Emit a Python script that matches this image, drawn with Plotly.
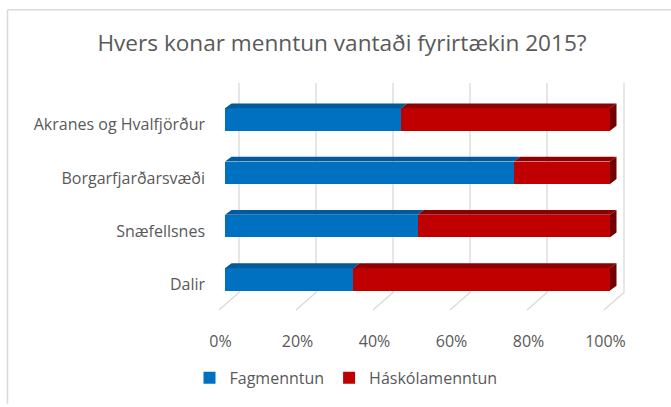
import plotly.graph_objects as go

# ---- data ----
categories = ["Akranes og Hvalfjörður", "Borgarfjarðarsvæði", "Snæfellsnes", "Dalir"]
fagmenntun = [45.7, 75.0, 50.0, 33.3]
haskolamenntun = [54.3, 25.0, 50.0, 66.7]
x_ticks = [0, 20, 40, 60, 80, 100]
x_tick_labels = ["0%", "20%", "40%", "60%", "80%", "100%"]
series_names = ["Fagmenntun", "Háskólamenntun"]

# ---- layout geometry (pixels) ----
W, H = 671, 407
L, R, T, B = 212, 640, 80, 320
X0_PX, X100_PX = 225, 610          # front face 0% / 100%
Y_BOTTOM_CAT_PX, CAT_STEP_PX = 284.5, 54.67
PX = 100.0 / (X100_PX - X0_PX)      # x units per pixel
PY = 1.0 / CAT_STEP_PX               # y units per pixel

def px2x(p):
    return (p - X0_PX) * PX

def px2y(p):
    return (Y_BOTTOM_CAT_PX - p) * PY

n = len(categories)
ypos = [n - 1 - i for i in range(n)]
bar_w = 23 * PY
DX, DY = 6.5 * PX, 5 * PY            # depth offset of bar top/side faces
GRID_DX = 14 * PX                    # back wall offset
FLOOR_DX = -6 * PX

TEXT = "#595959"
BLUE, BLUE_TOP = "#0070C0", "#005A9C"
RED, RED_TOP, RED_SIDE = "#C00000", "#8E0000", "#730000"
FONT = "Open Sans"

fig = go.Figure()

# front faces
fig.add_trace(go.Bar(y=ypos, x=fagmenntun, orientation="h", width=bar_w,
                     name=series_names[0], marker=dict(color=BLUE, line=dict(width=0))))
fig.add_trace(go.Bar(y=ypos, x=haskolamenntun, orientation="h", width=bar_w,
                     name=series_names[1], marker=dict(color=RED, line=dict(width=0))))

# top faces
def top_faces(starts, ends):
    xs, ys = [], []
    for y, a, b in zip(ypos, starts, ends):
        yt = y + bar_w / 2
        xs += [a, b, b + DX, a + DX, a, None]
        ys += [yt, yt, yt + DY, yt + DY, yt, None]
    return xs, ys

blue_end = fagmenntun
red_end = [a + b for a, b in zip(fagmenntun, haskolamenntun)]
xs, ys = top_faces([0] * n, blue_end)
fig.add_trace(go.Scatter(x=xs, y=ys, fill="toself", fillcolor=BLUE_TOP, mode="none",
                         showlegend=False, hoverinfo="skip"))
xs, ys = top_faces(blue_end, red_end)
fig.add_trace(go.Scatter(x=xs, y=ys, fill="toself", fillcolor=RED_TOP, mode="none",
                         showlegend=False, hoverinfo="skip"))
# side faces
xs, ys = [], []
for y, e in zip(ypos, red_end):
    yt, yb = y + bar_w / 2, y - bar_w / 2
    xs += [e, e + DX, e + DX, e, e, None]
    ys += [yb, yb + DY, yt + DY, yt, yb, None]
fig.add_trace(go.Scatter(x=xs, y=ys, fill="toself", fillcolor=RED_SIDE, mode="none",
                         showlegend=False, hoverinfo="skip"))

# gridlines (back wall + floor) as shapes below traces
shapes = []
g_top, g_back, g_front = px2y(83), px2y(298), px2y(316)
for v in x_ticks:
    path = (f"M {v + GRID_DX} {g_top} L {v + GRID_DX} {g_back} "
            f"L {v + FLOOR_DX} {g_front}")
    shapes.append(dict(type="path", path=path, xref="x", yref="y", layer="below",
                       line=dict(color="#D9D9D9", width=1.3)))

# chart border (top and left)
def pxp(p):
    return (p - L) / (R - L)

def pyp(p):
    return (B - p) / (B - T)

shapes.append(dict(type="line", xref="paper", yref="paper", x0=pxp(7.5), x1=pxp(W + 5),
                   y0=pyp(8), y1=pyp(8), line=dict(color="#D9D9D9", width=1.5)))
shapes.append(dict(type="line", xref="paper", yref="paper", x0=pxp(7.5), x1=pxp(7.5),
                   y0=pyp(8), y1=pyp(H + 5), line=dict(color="#D9D9D9", width=1.5)))

fig.update_layout(
    width=W, height=H,
    margin=dict(l=L, r=W - R, t=T, b=H - B),
    paper_bgcolor="white", plot_bgcolor="white",
    barmode="stack", bargap=0,
    shapes=shapes,
    title=dict(text="Hvers konar menntun vantaði fyrirtækin 2015?",
               x=342 / W, xanchor="center", y=1 - 43 / H, yanchor="middle",
               font=dict(family=FONT, size=22.6, color=TEXT)),
    font=dict(family=FONT, size=16, color=TEXT),
    xaxis=dict(range=[px2x(L), px2x(R)], tickvals=[v - 4.5 * PX for v in x_ticks],
               ticktext=x_tick_labels, showgrid=False, zeroline=False, showline=False,
               ticks="", ticklabelstandoff=16, tickfont=dict(size=16, color=TEXT),
               fixedrange=True, automargin=False),
    yaxis=dict(range=[px2y(B), px2y(T)], tickvals=[y - 5.5 * PY for y in ypos],
               ticktext=categories, showgrid=False, zeroline=False, showline=False,
               ticks="", ticklabelstandoff=6, tickfont=dict(size=16, color=TEXT),
               fixedrange=True, automargin=False),
    legend=dict(orientation="h", x=pxp(346), xanchor="center", y=pyp(368),
                yanchor="top", font=dict(size=16, color=TEXT),
                traceorder="normal", itemwidth=30, tracegroupgap=0),
)

fig.write_html("out.html", config={"displayModeBar": False},
               post_script="document.body.style.margin='0';")
